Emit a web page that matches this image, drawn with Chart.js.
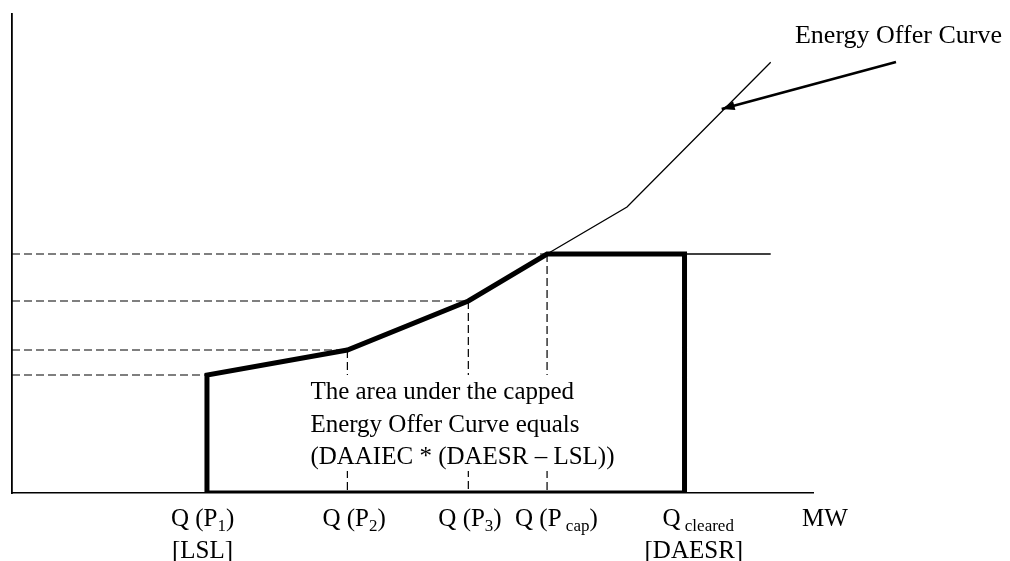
<!DOCTYPE html>
<html>
<head>
<meta charset="utf-8">
<script src="https://cdn.jsdelivr.net/npm/chart.js@4"></script>
<style>
  html, body { margin: 0; padding: 0; background: #fff; }
  #wrap { width: 1010px; height: 561px; position: relative; }
</style>
</head>
<body>
<div id="wrap"><canvas id="offerChart"></canvas></div>
<script>
  // quantities (MW) of the offer points: Q(P1), Q(P2), Q(P3), Q(Pcap), Q cleared
  const qValues = [24.34, 41.87, 56.97, 66.8, 83.96];
  // prices at P1, P2, P3, Pcap
  const pValues = [24.63, 29.85, 40.08, 49.9];
  // full energy offer curve
  const offerX = [24.34, 41.87, 56.97, 66.8, 76.78, 94.72];
  const offerY = [24.63, 29.85, 40.08, 49.9, 59.71, 89.92];
  // the cap line runs on past Q cleared
  const capEnd = 94.72;
  // arrow pointing at the curve (tip, tail)
  const arrowX = [88.6, 110.36];
  const arrowY = [80.17, 89.98];

  const tickLabels = ['Q (P_{1})', 'Q (P_{2})', 'Q (P_{3})', 'Q (P_{ cap})', 'Q_{ cleared}'];
  const tickLabels2 = ['[LSL]', '', '', '', '[DAESR]'];
  const axisTitle = 'MW';
  const noteLines = ['The area under the capped', 'Energy Offer Curve equals', '(DAAIEC * (DAESR \u2013 LSL))'];
  const curveName = 'Energy Offer Curve';

  const serif = '"Liberation Serif", "Times New Roman", serif';

  const pts = (xs, ys) => xs.map((x, i) => ({x: x, y: ys[i]}));

  const datasets = [];

  // dashed guide lines
  pValues.forEach((p, i) => {
    datasets.push({ data: [{x: 0, y: p}, {x: qValues[i], y: p}], borderDash: [8, 4], borderWidth: 1.2, borderColor: '#000' });
    if (i > 0) {
      datasets.push({ data: [{x: qValues[i], y: p}, {x: qValues[i], y: 0}], borderDash: [8, 4], borderWidth: 1.2, borderColor: '#000' });
    }
  });

  // thin offer curve and cap line
  datasets.push({ data: pts(offerX, offerY), borderWidth: 1.3, borderColor: '#000' });
  datasets.push({ data: [{x: qValues[4], y: pValues[3]}, {x: capEnd, y: pValues[3]}], borderWidth: 1.3, borderColor: '#000' });

  // thick outline of the capped area
  const capped = [{x: qValues[0], y: 0}];
  for (let i = 0; i < 4; i++) capped.push({x: qValues[i], y: pValues[i]});
  capped.push({x: qValues[4], y: pValues[3]});
  capped.push({x: qValues[4], y: 0});
  capped.push({x: qValues[0], y: 0});
  datasets.push({ data: capped, borderWidth: 5, borderColor: '#000', borderJoinStyle: 'miter' });

  // arrow shaft
  datasets.push({ data: pts(arrowX, arrowY), borderWidth: 2.6, borderColor: '#000', clip: false, isArrow: true });

  datasets.forEach(d => { d.showLine = true; d.pointRadius = 0; d.fill = false; d.tension = 0; });

  // draws "Q (P_{1})" style text with subscripts
  function drawRich(ctx, str, x, y, size) {
    const parts = str.split(/_\{([^}]*)\}/);
    let cx = x;
    parts.forEach((t, i) => {
      if (!t) return;
      const sub = i % 2 === 1;
      ctx.font = (sub ? Math.round(size * 0.68) : size) + 'px ' + serif;
      ctx.fillText(t, cx, y + (sub ? 5 : 0));
      cx += ctx.measureText(t).width;
    });
  }

  const labelPlugin = {
    id: 'labels',
    afterDatasetsDraw(chart) {
      const ctx = chart.ctx;
      const xs = chart.scales.x, ys = chart.scales.y;
      ctx.save();
      ctx.fillStyle = '#000';
      ctx.textBaseline = 'alphabetic';
      ctx.textAlign = 'left';

      // arrow head
      const ai = chart.data.datasets.findIndex(d => d.isArrow);
      if (ai >= 0) {
        const tx = xs.getPixelForValue(arrowX[0]), ty = ys.getPixelForValue(arrowY[0]);
        const sx = xs.getPixelForValue(arrowX[1]), sy = ys.getPixelForValue(arrowY[1]);
        const a = Math.atan2(ty - sy, tx - sx);
        const len = 13, w = 4.5;
        ctx.beginPath();
        ctx.moveTo(tx, ty);
        ctx.lineTo(tx - len * Math.cos(a) + w * Math.sin(a), ty - len * Math.sin(a) - w * Math.cos(a));
        ctx.lineTo(tx - len * Math.cos(a) - w * Math.sin(a), ty - len * Math.sin(a) + w * Math.cos(a));
        ctx.closePath();
        ctx.fill();

        ctx.font = '26px ' + serif;
        ctx.fillText(curveName, sx - 101, sy - 19);
      }

      // note in a white box
      ctx.font = '25px ' + serif;
      const nx = xs.getPixelForValue(qValues[1]) - 37;
      const ny = ys.getPixelForValue(0) - 94;
      let wmax = 0;
      noteLines.forEach(l => { wmax = Math.max(wmax, ctx.measureText(l).width); });
      ctx.fillStyle = '#fff';
      ctx.fillRect(nx - 5, ny - 24, wmax + 10, 32.5 * 2 + 31);
      ctx.fillStyle = '#000';
      noteLines.forEach((l, i) => ctx.fillText(l, nx, ny + i * 32.5));

      // axis labels
      const base = ys.getPixelForValue(0) + 33;
      const offs = [-36, -25, -30, -32, -22];
      const offs2 = [-35, 0, 0, 0, -40];
      tickLabels.forEach((t, i) => {
        const px = xs.getPixelForValue(qValues[i]);
        drawRich(ctx, t, px + offs[i], base, 25);
        if (tickLabels2[i]) drawRich(ctx, tickLabels2[i], px + offs2[i], base + 32, 25);
      });
      drawRich(ctx, axisTitle, xs.right - 11, base, 25);
      ctx.restore();
    }
  };

  new Chart(document.getElementById('offerChart'), {
    type: 'scatter',
    data: { datasets: datasets },
    options: {
      responsive: true,
      maintainAspectRatio: false,
      animation: false,
      layout: { padding: { left: 12, top: 14, right: 197, bottom: 68 } },
      plugins: { legend: { display: false }, tooltip: { enabled: false } },
      scales: {
        x: {
          type: 'linear', min: 0, max: 100,
          ticks: { display: false },
          grid: { display: false, drawTicks: false },
          border: { display: true, color: '#000', width: 1.5 }
        },
        y: {
          type: 'linear', min: 0, max: 100,
          ticks: { display: false },
          grid: { display: false, drawTicks: false },
          border: { display: true, color: '#000', width: 1.8 }
        }
      }
    },
    plugins: [labelPlugin]
  });
</script>
</body>
</html>
